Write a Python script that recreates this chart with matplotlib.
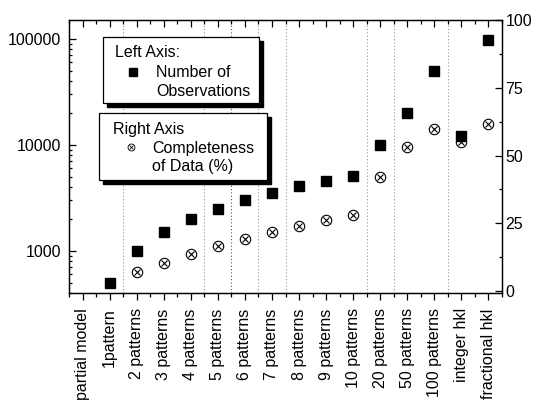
import numpy as np
import matplotlib.pyplot as plt
from matplotlib.ticker import FixedLocator, NullFormatter, LogLocator
from matplotlib.patches import Rectangle
from matplotlib.lines import Line2D

plt.rcParams['font.family'] = ['Liberation Sans', 'DejaVu Sans']
plt.rcParams['font.size'] = 11.5

# data
categories = ['partial model', '1pattern', '2 patterns', '3 patterns', '4 patterns',
              '5 patterns', '6 patterns', '7 patterns', '8 patterns', '9 patterns',
              '10 patterns', '20 patterns', '50 patterns', '100 patterns',
              'integer hkl', 'fractional hkl']
observations = [np.nan, 500, 1000, 1500, 2000, 2500, 3000, 3500, 4100, 4600,
                5050, 10000, 20000, 50000, 12200, 98000]
completeness = [np.nan, np.nan, 7.0, 10.4, 13.7, 16.6, 19.4, 21.8, 24.0, 26.1,
                28.0, 42.2, 53.2, 59.7, 55.1, 61.6]
dividers_after = ['1pattern', '4 patterns', '5 patterns', '6 patterns', '7 patterns',
                  '10 patterns', '20 patterns', '100 patterns']

W, H = 536, 403
fig = plt.figure(figsize=(W / 100, H / 100), dpi=100)


def px(x, y):
    # pixel position (top-left origin) -> figure fraction
    return x / W, 1 - y / H


rect = [69 / W, 1 - 293 / H, 433 / W, 273 / H]
ax = fig.add_axes(rect)
ax2 = ax.twinx()
ax.set_zorder(2)
ax.patch.set_visible(False)

x = np.arange(len(categories))

ax.semilogy(x, observations, ls='none', marker='s', ms=7.5, mfc='black', mec='black')
ax2.plot(x, completeness, ls='none', marker='o', ms=7.5, mfc='none', mec='black', mew=0.8)
ax2.plot(x, completeness, ls='none', marker='x', ms=5, mec='black', mew=0.8)

for name in dividers_after:
    pos = categories.index(name) + 0.5
    shade = '0.35' if name == '5 patterns' else '0.6'
    ax2.axvline(pos, color=shade, ls=(0, (1, 2)), lw=0.8)

ax.set_xlim(-0.5, len(categories) - 0.5)
ax.set_ylim(400, 150000)
ax2.set_ylim(-0.7, 100)

ax.set_xticks(x)
ax.set_xticklabels(categories, rotation=90, va='top', ha='center')
ax.xaxis.set_minor_locator(FixedLocator(np.arange(-0.5, len(categories), 1.0)))
ax.yaxis.set_minor_locator(LogLocator(base=10, subs=np.arange(2, 10)))
ax.yaxis.set_minor_formatter(NullFormatter())
ax.set_yticks([1000, 10000, 100000])
ax.set_yticklabels(['1000', '10000', '100000'])

ax2.set_yticks([0, 25, 50, 75, 100])
ax2.yaxis.set_minor_locator(FixedLocator([12.5, 37.5, 62.5, 87.5]))

ax.tick_params(axis='x', which='both', direction='out', top=False, pad=6, width=0.9)
ax.tick_params(axis='x', which='major', length=5)
ax.tick_params(axis='x', which='minor', length=3)
ax.tick_params(axis='y', which='both', direction='in', pad=5.5, width=0.9)
ax.tick_params(axis='y', which='major', length=5)
ax.tick_params(axis='y', which='minor', length=2.5)
ax2.tick_params(axis='y', which='both', direction='in', pad=2.5, width=0.9)
ax2.tick_params(axis='y', which='major', length=5)
ax2.tick_params(axis='y', which='minor', length=2.5)

# overlay axes that only carries the inward ticks on the top edge
ax3 = fig.add_axes(rect, zorder=3)
ax3.patch.set_visible(False)
for s in ax3.spines.values():
    s.set_visible(False)
ax3.set_xlim(ax.get_xlim())
ax3.set_xticks(x)
ax3.xaxis.set_minor_locator(FixedLocator(np.arange(-0.5, len(categories), 1.0)))
ax3.set_yticks([])
ax3.tick_params(axis='x', which='both', direction='in', bottom=False, labelbottom=False,
                top=True, labeltop=False, width=0.9)
ax3.tick_params(axis='x', which='major', length=5)
ax3.tick_params(axis='x', which='minor', length=3)

for a in (ax, ax2):
    for s in a.spines.values():
        s.set_linewidth(0.9)


def legend_box(x0, y0, x1, y1):
    fx0, fy1 = px(x0, y0)
    fx1, fy0 = px(x1, y1)
    sx, sy = 4 / W, 4 / H
    fig.add_artist(Rectangle((fx0 + sx, fy0 - sy), fx1 - fx0, fy1 - fy0,
                             transform=fig.transFigure, facecolor='black',
                             edgecolor='black', zorder=5))
    fig.add_artist(Rectangle((fx0, fy0), fx1 - fx0, fy1 - fy0,
                             transform=fig.transFigure, facecolor='white',
                             edgecolor='black', lw=0.9, zorder=6))


def legend_text(x0, y0, s):
    fig.text(*px(x0, y0), s, ha='left', va='baseline', zorder=7)


legend_box(103, 37, 259, 103)
legend_text(115, 57, 'Left Axis:')
legend_text(156, 77, 'Number of')
legend_text(156, 96, 'Observations')
fig.add_artist(Line2D(*zip(px(133, 72)), transform=fig.transFigure, ls='none',
                      marker='s', ms=5.5, mfc='black', mec='black', zorder=7))

legend_box(99, 113, 267, 180)
legend_text(113, 134, 'Right Axis')
legend_text(152, 153, 'Completeness')
legend_text(152, 171, 'of Data (%)')
for m, size in (('o', 5), ('x', 3.5)):
    fig.add_artist(Line2D(*zip(px(131, 147)), transform=fig.transFigure, ls='none',
                          marker=m, ms=size, mfc='none', mec='black', mew=0.6, zorder=7))

fig.savefig('out.png', dpi=100)
